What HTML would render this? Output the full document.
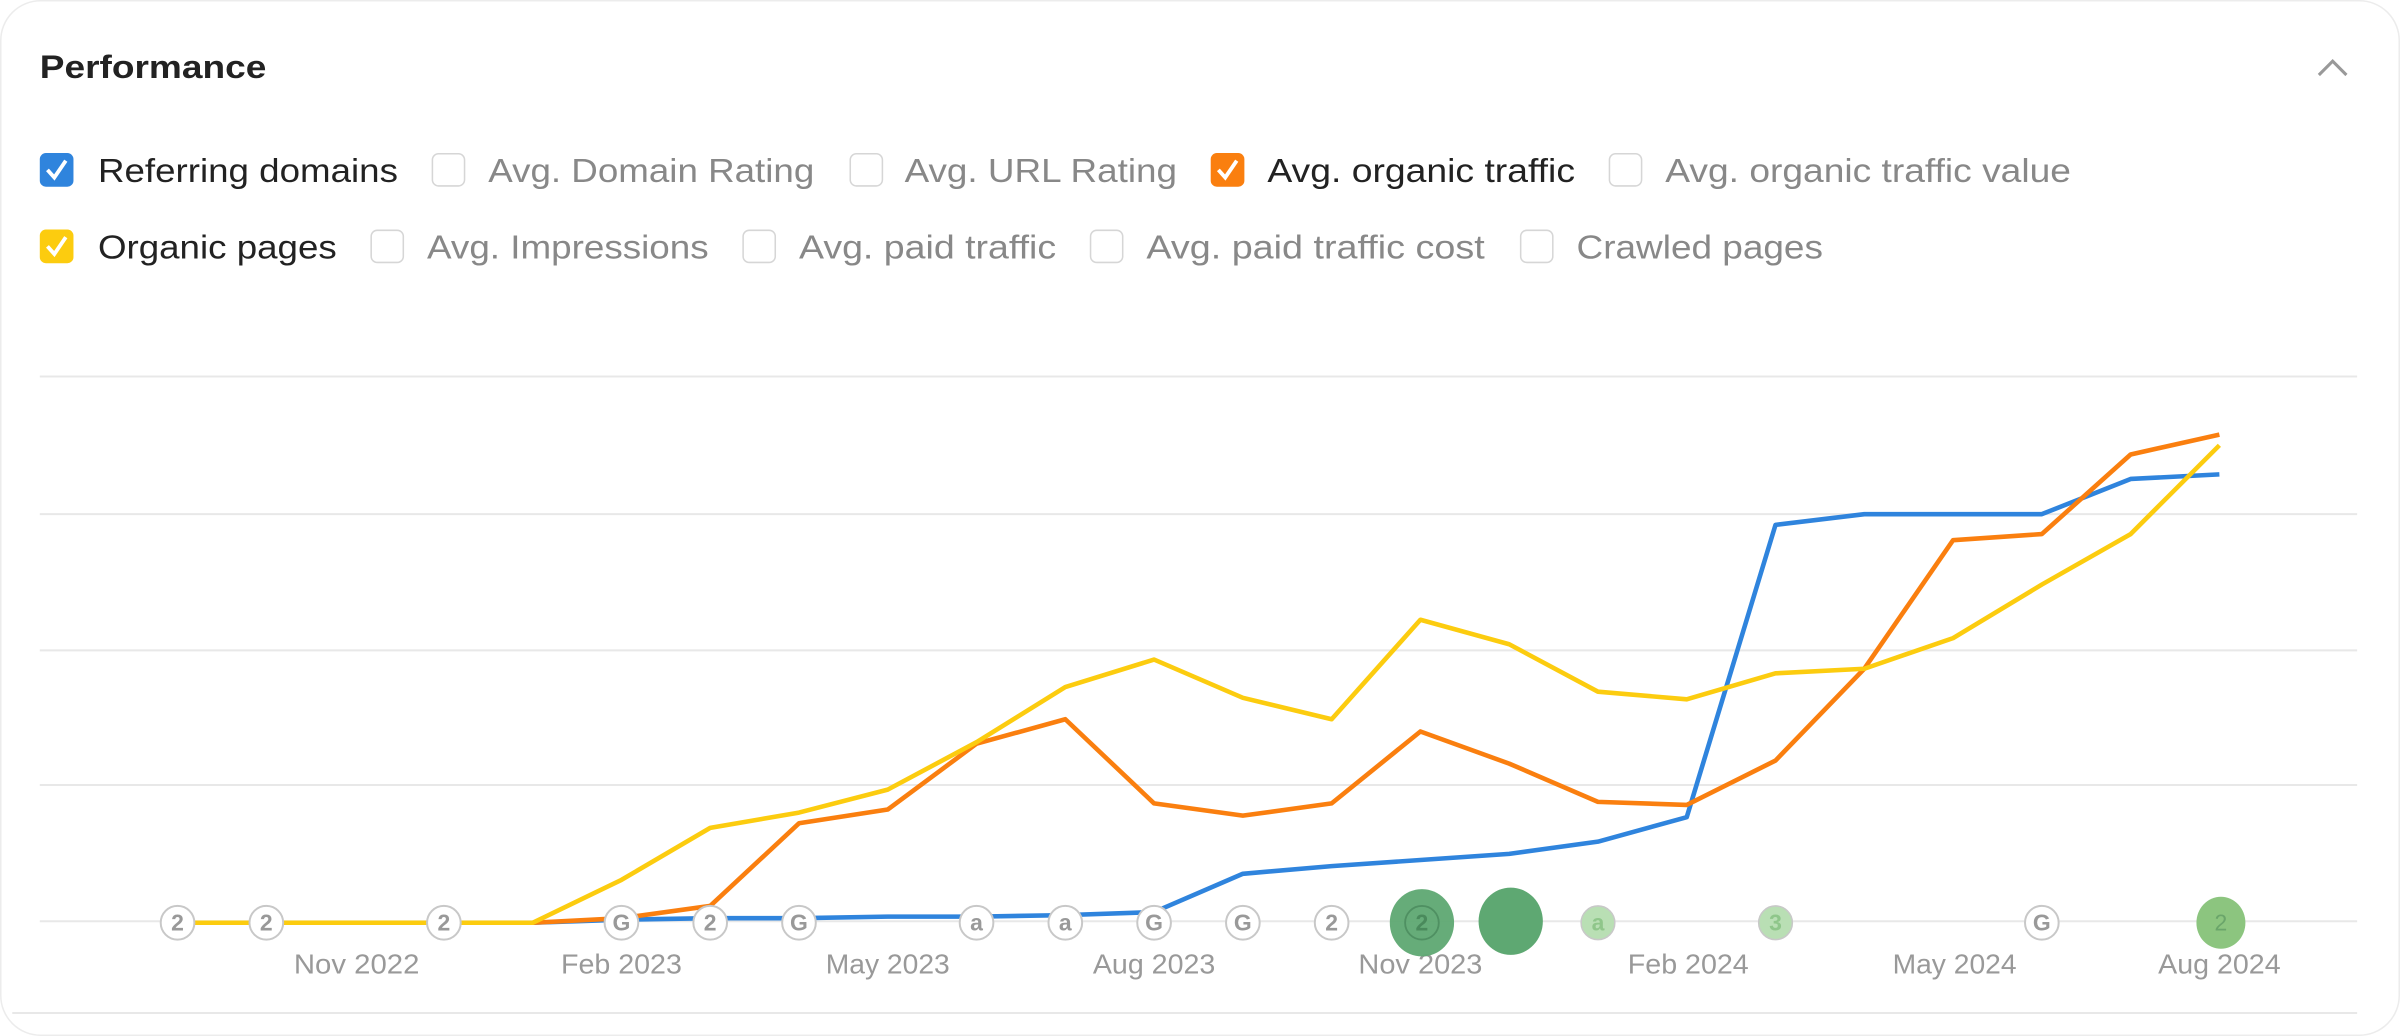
<!DOCTYPE html>
<html><head><meta charset="utf-8"><style>
html,body{margin:0;padding:0;background:#fff;}
svg{display:block;}
text{font-family:"Liberation Sans",Arial,sans-serif;}
</style></head><body>
<svg width="2400" height="1036" viewBox="0 0 1568 677" preserveAspectRatio="none" xmlns="http://www.w3.org/2000/svg">
<rect x="0.5" y="0.5" width="1567" height="676" rx="26" fill="#fff" stroke="#ececec"/>
<text x="26" y="51" font-size="21" font-weight="bold" fill="#222" textLength="148" lengthAdjust="spacingAndGlyphs">Performance</text>
<path d="M1515 49 L1524 40 L1533 49" fill="none" stroke="#999" stroke-width="2"/>
<g font-size="22" lengthAdjust="spacingAndGlyphs">
<rect x="26" y="100" width="22" height="22" rx="4" fill="#2f84dd"/>
<path d="M31 111 L35.5 116 L43 105" fill="none" stroke="#fff" stroke-width="2.5"/>
<text x="64" y="119" fill="#222" textLength="196" lengthAdjust="spacingAndGlyphs">Referring domains</text>
<rect x="282.5" y="100.5" width="21" height="21" rx="4" fill="#fff" stroke="#d6d6d6"/>
<text x="319" y="119" fill="#888" textLength="213" lengthAdjust="spacingAndGlyphs">Avg. Domain Rating</text>
<rect x="555.5" y="100.5" width="21" height="21" rx="4" fill="#fff" stroke="#d6d6d6"/>
<text x="591" y="119" fill="#888" textLength="178" lengthAdjust="spacingAndGlyphs">Avg. URL Rating</text>
<rect x="791" y="100" width="22" height="22" rx="4" fill="#fa7f0f"/>
<path d="M796 111 L800.5 116 L808 105" fill="none" stroke="#fff" stroke-width="2.5"/>
<text x="828" y="119" fill="#222" textLength="201" lengthAdjust="spacingAndGlyphs">Avg. organic traffic</text>
<rect x="1051.5" y="100.5" width="21" height="21" rx="4" fill="#fff" stroke="#d6d6d6"/>
<text x="1088" y="119" fill="#888" textLength="265" lengthAdjust="spacingAndGlyphs">Avg. organic traffic value</text>

<rect x="26" y="150" width="22" height="22" rx="4" fill="#fccc0f"/>
<path d="M31 161 L35.5 166 L43 155" fill="none" stroke="#fff" stroke-width="2.5"/>
<text x="64" y="169" fill="#222" textLength="156" lengthAdjust="spacingAndGlyphs">Organic pages</text>
<rect x="242.5" y="150.5" width="21" height="21" rx="4" fill="#fff" stroke="#d6d6d6"/>
<text x="279" y="169" fill="#888" textLength="184" lengthAdjust="spacingAndGlyphs">Avg. Impressions</text>
<rect x="485.5" y="150.5" width="21" height="21" rx="4" fill="#fff" stroke="#d6d6d6"/>
<text x="522" y="169" fill="#888" textLength="168" lengthAdjust="spacingAndGlyphs">Avg. paid traffic</text>
<rect x="712.5" y="150.5" width="21" height="21" rx="4" fill="#fff" stroke="#d6d6d6"/>
<text x="749" y="169" fill="#888" textLength="221" lengthAdjust="spacingAndGlyphs">Avg. paid traffic cost</text>
<rect x="993.5" y="150.5" width="21" height="21" rx="4" fill="#fff" stroke="#d6d6d6"/>
<text x="1030" y="169" fill="#888" textLength="161" lengthAdjust="spacingAndGlyphs">Crawled pages</text>
</g>
<g stroke="#e8e8e8" stroke-width="1.3">
<line x1="26" y1="246" x2="1540" y2="246"/>
<line x1="26" y1="336" x2="1540" y2="336"/>
<line x1="26" y1="425" x2="1540" y2="425"/>
<line x1="26" y1="513" x2="1540" y2="513"/>
<line x1="26" y1="602" x2="1540" y2="602"/>
<line x1="8" y1="662" x2="1540" y2="662"/>
</g>
<g fill="none" stroke-width="3" stroke-linejoin="round">
<polyline stroke="#2f84dd" points="116,603 348,603 406,601 464,600 522,600 580,599 638,599 696,598 754,596 812,571 870,566 928,562 986,558 1044,550 1102,534 1160,343 1218,336 1276,336 1334,336 1392,313 1450,310"/>
<polyline stroke="#fa7f0f" points="116,603 348,603 406,600 464,592 522,538 580,529 638,486 696,470 754,525 812,533 870,525 928,478 986,499 1044,524 1102,526 1160,497 1218,437 1276,353 1334,349 1392,297 1450,284"/>
<polyline stroke="#fccc0f" points="116,603 348,603 406,575 464,541 522,531 580,516 638,485 696,449 754,431 812,456 870,470 928,405 986,421 1044,452 1102,457 1160,440 1218,437 1276,417 1334,382 1392,349 1450,291"/>
</g>
<g font-size="15" font-weight="bold" text-anchor="middle">
<g fill="#fff" stroke="#c8c8c8" stroke-width="1.3">
<circle cx="116" cy="603" r="11"/><circle cx="174" cy="603" r="11"/><circle cx="290" cy="603" r="11"/>
<circle cx="406" cy="603" r="11"/><circle cx="464" cy="603" r="11"/><circle cx="522" cy="603" r="11"/>
<circle cx="638" cy="603" r="11"/><circle cx="696" cy="603" r="11"/><circle cx="754" cy="603" r="11"/>
<circle cx="812" cy="603" r="11"/><circle cx="870" cy="603" r="11"/><circle cx="1334" cy="603" r="11"/>
</g>
<g fill="#999">
<text x="116" y="608">2</text><text x="174" y="608">2</text><text x="290" y="608">2</text>
<text x="406" y="608">G</text><text x="464" y="608">2</text><text x="522" y="608">G</text>
<text x="638" y="608">a</text><text x="696" y="608">a</text><text x="754" y="608">G</text>
<text x="812" y="608">G</text><text x="870" y="608">2</text><text x="1334" y="608">G</text>
</g>
<circle cx="1044" cy="603" r="11" fill="#b9dfb4" stroke="#c8c8c8"/><text x="1044" y="608" fill="#8fc68a">a</text>
<circle cx="1160" cy="603" r="11" fill="#b9dfb4" stroke="#c8c8c8"/><text x="1160" y="608" fill="#8fc68a">3</text>
</g>
<g font-size="18" fill="#999" text-anchor="middle" lengthAdjust="spacingAndGlyphs">
<text x="233" y="636" textLength="82" lengthAdjust="spacingAndGlyphs">Nov 2022</text><text x="406" y="636" textLength="79" lengthAdjust="spacingAndGlyphs">Feb 2023</text>
<text x="580" y="636" textLength="81" lengthAdjust="spacingAndGlyphs">May 2023</text><text x="754" y="636" textLength="80" lengthAdjust="spacingAndGlyphs">Aug 2023</text>
<text x="928" y="636" textLength="81" lengthAdjust="spacingAndGlyphs">Nov 2023</text><text x="1103" y="636" textLength="79" lengthAdjust="spacingAndGlyphs">Feb 2024</text>
<text x="1277" y="636" textLength="81" lengthAdjust="spacingAndGlyphs">May 2024</text><text x="1450" y="636" textLength="80" lengthAdjust="spacingAndGlyphs">Aug 2024</text>
</g>
<g font-size="15" font-weight="bold" text-anchor="middle">
<ellipse cx="929" cy="603" rx="21" ry="22" fill="#5ea872" opacity="0.95"/>
<circle cx="929" cy="603" r="11" fill="none" stroke="#4f9062" stroke-width="1.2"/>
<text x="929" y="608" fill="#4a8a5c">2</text>
<ellipse cx="987" cy="602" rx="21" ry="22" fill="#5ea872"/>
<ellipse cx="1451" cy="603" rx="16" ry="17" fill="#8cc57f"/>
<text x="1451" y="608" fill="#6aa56a" font-weight="normal">2</text>
</g>
</svg>
</body></html>
